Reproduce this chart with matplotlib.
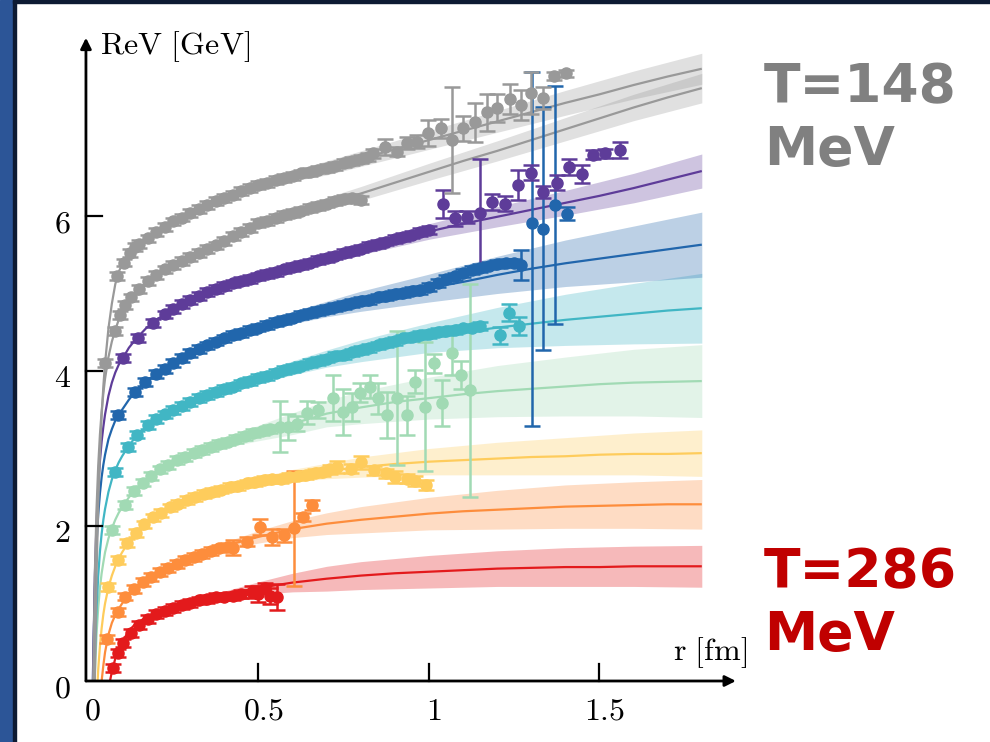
import matplotlib
matplotlib.use("Agg")
import matplotlib.pyplot as plt
from matplotlib.patches import Rectangle
import numpy as np

plt.rcParams["mathtext.fontset"] = "cm"

# ---------------------------------------------------------------- fit curves
r_fit = [0.012, 0.015, 0.02, 0.025, 0.03, 0.035, 0.04, 0.045, 0.05, 0.06, 0.07,
         0.08, 0.09, 0.1, 0.12, 0.14, 0.17, 0.2, 0.25, 0.3, 0.35, 0.4, 0.5, 0.6,
         0.7, 0.8, 0.9, 1.0, 1.1, 1.2, 1.3, 1.4, 1.5, 1.6, 1.7, 1.8]

fit_gray1 = [-3.0, -1.5, 0.0, 1.36, 2.27, 2.92, 3.42, 3.8, 4.1, 4.55, 4.87, 5.12,
             5.28, 5.37, 5.5, 5.6, 5.7, 5.79, 5.93, 6.04, 6.14, 6.23, 6.4, 6.52,
             6.62, 6.74, 6.86, 6.98, 7.1, 7.22, 7.34, 7.46, 7.57, 7.69, 7.8, 7.9]
fit_gray2 = [-1.41, 0.0, 1.38, 2.22, 2.78, 3.18, 3.48, 3.71, 3.9, 4.18, 4.38, 4.53,
             4.66, 4.76, 4.92, 5.02, 5.14, 5.24, 5.37, 5.47, 5.57, 5.68, 5.9, 6.04,
             6.16, 6.29, 6.43, 6.57, 6.71, 6.84, 6.98, 7.12, 7.26, 7.4, 7.53, 7.65]
fit_purple = [-0.99, 0.18, 1.34, 2.04, 2.51, 2.84, 3.09, 3.28, 3.44, 3.68, 3.85, 3.98,
              4.08, 4.15, 4.3, 4.41, 4.55, 4.66, 4.8, 4.92, 5.02, 5.1, 5.22, 5.34,
              5.46, 5.58, 5.7, 5.8, 5.9, 5.99, 6.08, 6.17, 6.26, 6.36, 6.47, 6.58]
fit_blue = [-0.75, 0.21, 1.18, 1.76, 2.15, 2.42, 2.63, 2.79, 2.92, 3.12, 3.25, 3.36,
            3.44, 3.5, 3.63, 3.74, 3.87, 3.96, 4.1, 4.23, 4.33, 4.42, 4.56, 4.69,
            4.8, 4.9, 4.99, 5.07, 5.15, 5.24, 5.32, 5.39, 5.45, 5.51, 5.57, 5.63]
fit_teal = [-1.9, -0.81, 0.27, 0.92, 1.36, 1.67, 1.9, 2.08, 2.22, 2.44, 2.6, 2.72,
            2.82, 2.9, 3.04, 3.15, 3.28, 3.38, 3.5, 3.6, 3.69, 3.77, 3.91, 4.04,
            4.16, 4.26, 4.35, 4.43, 4.5, 4.56, 4.61, 4.66, 4.7, 4.74, 4.78, 4.81]
fit_green = [-1.7, -0.82, 0.07, 0.6, 0.95, 1.2, 1.39, 1.53, 1.66, 1.84, 1.97, 2.08,
             2.17, 2.24, 2.37, 2.47, 2.6, 2.7, 2.83, 2.92, 3.0, 3.07, 3.2, 3.32,
             3.45, 3.53, 3.6, 3.65, 3.7, 3.74, 3.77, 3.8, 3.83, 3.85, 3.86, 3.87]
fit_yellow = [-3.05, -1.99, -0.92, -0.28, 0.15, 0.45, 0.68, 0.86, 1.0, 1.21, 1.36, 1.48,
              1.58, 1.66, 1.8, 1.91, 2.04, 2.14, 2.26, 2.35, 2.42, 2.48, 2.58, 2.65,
              2.71, 2.76, 2.8, 2.83, 2.85, 2.87, 2.89, 2.9, 2.92, 2.93, 2.93, 2.94]
fit_orange = [-5.0, -3.5, -2.0, -1.2, -0.6, -0.25, 0.0, 0.2, 0.37, 0.6, 0.75, 0.85,
              0.93, 1.0, 1.12, 1.21, 1.31, 1.39, 1.5, 1.59, 1.67, 1.74, 1.86, 1.96,
              2.03, 2.08, 2.12, 2.16, 2.19, 2.21, 2.23, 2.25, 2.26, 2.27, 2.28, 2.28]
fit_red = [-6.0, -4.6, -3.1, -2.2, -1.6, -1.2, -0.9, -0.6, -0.4, -0.1, 0.12, 0.29,
           0.41, 0.5, 0.65, 0.74, 0.82, 0.88, 0.96, 1.02, 1.07, 1.12, 1.2, 1.27,
           1.32, 1.36, 1.39, 1.41, 1.43, 1.45, 1.46, 1.47, 1.47, 1.48, 1.48, 1.48]

# half widths of the fit uncertainty bands
r_band = [0.3, 0.4, 0.5, 0.6, 0.7, 0.8, 1.0, 1.2, 1.4, 1.6, 1.8]
band_gray1 = [0.02, 0.04, 0.06, 0.07, 0.09, 0.1, 0.12, 0.14, 0.16, 0.18, 0.2]
band_gray2 = [0.02, 0.03, 0.05, 0.06, 0.08, 0.09, 0.11, 0.13, 0.15, 0.17, 0.19]
band_purple = [0.01, 0.02, 0.03, 0.05, 0.06, 0.08, 0.1, 0.13, 0.16, 0.19, 0.22]
band_blue = [0.02, 0.04, 0.06, 0.08, 0.1, 0.13, 0.18, 0.24, 0.3, 0.36, 0.42]
band_teal = [0.02, 0.04, 0.07, 0.09, 0.11, 0.14, 0.19, 0.26, 0.33, 0.39, 0.45]
band_green = [0.03, 0.06, 0.1, 0.14, 0.17, 0.21, 0.27, 0.33, 0.38, 0.43, 0.47]
band_yellow = [0.01, 0.03, 0.05, 0.08, 0.1, 0.13, 0.17, 0.21, 0.24, 0.27, 0.3]
band_orange = [0.02, 0.05, 0.08, 0.11, 0.14, 0.17, 0.21, 0.25, 0.28, 0.3, 0.32]
band_red = [0.01, 0.04, 0.08, 0.12, 0.16, 0.18, 0.21, 0.23, 0.25, 0.26, 0.27]

# ---------------------------------------------------------------- lattice data
dense_err = 0.05

gray1_r = [0.05, 0.085, 0.105, 0.123, 0.138, 0.15, 0.175, 0.2, 0.225, 0.25, 0.275,
           0.3, 0.325, 0.35, 0.375, 0.4, 0.425, 0.45, 0.475, 0.5, 0.525, 0.55, 0.575,
           0.6, 0.625, 0.65, 0.675, 0.7, 0.725, 0.75, 0.775, 0.8]
gray1_v = [4.10, 5.23, 5.40, 5.52, 5.60, 5.64, 5.71, 5.79, 5.86, 5.93, 5.98, 6.04,
           6.09, 6.14, 6.19, 6.23, 6.27, 6.32, 6.36, 6.40, 6.43, 6.46, 6.49, 6.52,
           6.55, 6.57, 6.60, 6.62, 6.65, 6.68, 6.71, 6.74]
gray1_sr = [0.82, 0.836, 0.87, 0.905, 0.935, 0.964, 0.997, 1.035, 1.067, 1.1, 1.135,
            1.17, 1.2, 1.237, 1.27, 1.3, 1.334, 1.367, 1.402]
gray1_sv = [6.76, 6.81, 6.89, 6.83, 6.94, 6.96, 7.07, 7.13, 6.98, 7.13, 7.21, 7.34,
            7.39, 7.51, 7.43, 7.59, 7.52, 7.81, 7.84]
gray1_se = [0.05, 0.06, 0.1, 0.06, 0.08, 0.08, 0.17, 0.12, 0.68, 0.16, 0.25, 0.24,
            0.18, 0.19, 0.19, 0.27, 0.14, 0.05, 0.05]

gray2_r = [0.079, 0.094, 0.108, 0.125, 0.15, 0.175, 0.2, 0.225, 0.25, 0.275, 0.3,
           0.325, 0.35, 0.375, 0.4, 0.425, 0.45, 0.475, 0.5, 0.525, 0.55, 0.575, 0.6,
           0.625, 0.65, 0.675, 0.7, 0.725, 0.75, 0.775, 0.8]
gray2_v = [4.52, 4.72, 4.85, 4.95, 5.06, 5.16, 5.24, 5.31, 5.37, 5.42, 5.47, 5.52,
           5.57, 5.62, 5.68, 5.74, 5.79, 5.85, 5.91, 5.94, 5.97, 6.01, 6.04, 6.07,
           6.10, 6.13, 6.16, 6.19, 6.22, 6.23, 6.21]

purple_r = [0.104, 0.148, 0.19, 0.225, 0.25, 0.275, 0.3, 0.325, 0.35, 0.375, 0.4,
            0.425, 0.45, 0.475, 0.5, 0.525, 0.55, 0.575, 0.6, 0.625, 0.65, 0.675,
            0.7, 0.725, 0.75, 0.775, 0.8, 0.825, 0.85, 0.875, 0.9, 0.925, 0.95,
            0.975, 1.0]
purple_v = [4.17, 4.43, 4.62, 4.73, 4.80, 4.86, 4.92, 4.97, 5.02, 5.06, 5.10, 5.13,
            5.16, 5.19, 5.22, 5.25, 5.28, 5.31, 5.34, 5.37, 5.40, 5.43, 5.46, 5.49,
            5.52, 5.55, 5.58, 5.61, 5.64, 5.67, 5.70, 5.73, 5.76, 5.79, 5.82]
purple_sr = [1.04, 1.076, 1.11, 1.15, 1.185, 1.223, 1.26, 1.3, 1.335, 1.375, 1.41,
             1.45, 1.48, 1.516, 1.56]
purple_sv = [6.16, 5.97, 5.99, 6.04, 6.18, 6.16, 6.40, 6.56, 6.31, 6.43, 6.63, 6.54,
             6.79, 6.81, 6.85]
purple_se = [0.18, 0.1, 0.08, 0.7, 0.1, 0.1, 0.19, 0.1, 0.08, 0.1, 0.1, 0.12, 0.06,
             0.06, 0.1]

blue_r = [0.089, 0.138, 0.167, 0.2, 0.225, 0.25, 0.275, 0.3, 0.325, 0.35, 0.375,
          0.4, 0.425, 0.45, 0.475, 0.5, 0.525, 0.55, 0.575, 0.6, 0.625, 0.65, 0.675,
          0.7, 0.725, 0.75, 0.775, 0.8, 0.825, 0.85, 0.875, 0.9, 0.925, 0.95, 0.975,
          1.0, 1.025, 1.05, 1.075, 1.1, 1.125, 1.15, 1.175, 1.2, 1.225, 1.25]
blue_v = [3.43, 3.73, 3.86, 3.96, 4.03, 4.10, 4.17, 4.23, 4.28, 4.33, 4.38, 4.42,
          4.46, 4.49, 4.53, 4.56, 4.59, 4.63, 4.66, 4.69, 4.72, 4.75, 4.77, 4.80,
          4.83, 4.85, 4.88, 4.90, 4.92, 4.95, 4.97, 4.99, 5.01, 5.03, 5.05, 5.08,
          5.14, 5.19, 5.22, 5.26, 5.30, 5.33, 5.36, 5.38, 5.40, 5.39]
blue_sr = [1.27, 1.303, 1.335, 1.37, 1.405]
blue_sv = [5.37, 5.91, 5.83, 6.14, 6.03]
blue_se_lo = [0.19, 2.62, 1.56, 1.53, 0.08]
blue_se_hi = [0.19, 1.95, 1.58, 1.54, 0.08]

teal_r = [0.079, 0.117, 0.145, 0.175, 0.2, 0.225, 0.25, 0.275, 0.3, 0.325, 0.35,
          0.375, 0.4, 0.425, 0.45, 0.475, 0.5, 0.525, 0.55, 0.575, 0.6, 0.625, 0.65,
          0.675, 0.7, 0.725, 0.75, 0.775, 0.8, 0.825, 0.85, 0.875, 0.9, 0.925, 0.95,
          0.975, 1.0, 1.025, 1.05, 1.075, 1.1, 1.125, 1.15]
teal_v = [2.70, 3.02, 3.18, 3.30, 3.38, 3.44, 3.50, 3.55, 3.60, 3.65, 3.69, 3.73,
          3.77, 3.80, 3.84, 3.87, 3.91, 3.94, 3.98, 4.01, 4.04, 4.07, 4.10, 4.13,
          4.16, 4.19, 4.21, 4.24, 4.27, 4.30, 4.33, 4.36, 4.39, 4.42, 4.44, 4.46,
          4.48, 4.50, 4.52, 4.53, 4.55, 4.56, 4.58]
teal_sr = [1.208, 1.235, 1.264]
teal_sv = [4.46, 4.75, 4.58]
teal_se = [0.11, 0.11, 0.12]

green_r = [0.069, 0.108, 0.135, 0.16, 0.185, 0.21, 0.235, 0.26, 0.285, 0.31, 0.335,
           0.36, 0.385, 0.41, 0.435, 0.46, 0.485, 0.51, 0.535]
green_v = [1.95, 2.27, 2.45, 2.56, 2.65, 2.73, 2.79, 2.85, 2.89, 2.94, 2.98, 3.02,
           3.06, 3.09, 3.12, 3.16, 3.20, 3.22, 3.25]
green_sr = [0.563, 0.587, 0.612, 0.642, 0.674, 0.719, 0.748, 0.774, 0.798, 0.827,
            0.85, 0.877, 0.905, 0.935, 0.959, 0.988, 1.015, 1.038, 1.067, 1.094, 1.12]
green_sv = [3.28, 3.28, 3.32, 3.46, 3.50, 3.65, 3.47, 3.54, 3.72, 3.80, 3.65, 3.43,
            3.65, 3.43, 3.86, 3.54, 4.10, 3.59, 4.23, 3.95, 3.75]
green_se = [0.33, 0.17, 0.1, 0.15, 0.1, 0.3, 0.3, 0.18, 0.12, 0.15, 0.2, 0.3, 0.86,
            0.25, 0.15, 0.83, 0.12, 0.3, 0.28, 0.18, 1.37]

yellow_r = [0.06, 0.088, 0.113, 0.14, 0.165, 0.19, 0.215, 0.24, 0.265, 0.29, 0.315,
            0.34, 0.365, 0.39, 0.415, 0.44, 0.465, 0.49, 0.515, 0.54, 0.565, 0.59,
            0.615, 0.64, 0.665, 0.69]
yellow_v = [1.21, 1.56, 1.78, 1.91, 2.02, 2.11, 2.17, 2.24, 2.29, 2.34, 2.37, 2.41,
            2.44, 2.47, 2.50, 2.52, 2.55, 2.57, 2.59, 2.61, 2.61, 2.63, 2.64, 2.66,
            2.68, 2.70]
yellow_sr = [0.71, 0.73, 0.77, 0.8, 0.84, 0.875, 0.9, 0.935, 0.96, 0.99]
yellow_sv = [2.73, 2.76, 2.74, 2.82, 2.72, 2.68, 2.63, 2.61, 2.58, 2.53]
yellow_se = [0.06, 0.08, 0.06, 0.08, 0.06, 0.06, 0.08, 0.06, 0.06, 0.07]

orange_r = [0.055, 0.088, 0.108, 0.135, 0.16, 0.185, 0.21, 0.235, 0.26, 0.285, 0.31,
            0.335, 0.36, 0.385, 0.41]
orange_v = [0.54, 0.89, 1.09, 1.19, 1.28, 1.34, 1.41, 1.46, 1.51, 1.56, 1.60, 1.64,
            1.68, 1.71, 1.73]
orange_sr = [0.425, 0.465, 0.505, 0.54, 0.575, 0.605, 0.63, 0.657]
orange_sv = [1.72, 1.80, 1.99, 1.86, 1.88, 1.97, 2.12, 2.27]
orange_se = [0.1, 0.06, 0.1, 0.1, 0.08, 0.74, 0.05, 0.06]

red_r = [0.073, 0.088, 0.103, 0.125, 0.15, 0.175, 0.2, 0.225, 0.25, 0.275, 0.3,
         0.325, 0.35, 0.375, 0.4, 0.425, 0.45]
red_v = [0.17, 0.36, 0.49, 0.62, 0.72, 0.80, 0.86, 0.90, 0.94, 0.98, 1.01, 1.04,
         1.06, 1.08, 1.09, 1.10, 1.12]
red_sr = [0.48, 0.5, 0.52, 0.535, 0.555]
red_sv = [1.15, 1.12, 1.20, 1.10, 1.08]
red_se = [0.08, 0.1, 0.07, 0.1, 0.17]

x_ticks = [0.5, 1.0, 1.5]
x_ticklabels = ["0", "0.5", "1", "1.5"]
y_ticks = [2, 4, 6]
y_ticklabels = ["0", "2", "4", "6"]

# ---------------------------------------------------------------- styling
C_GRAY = "#999999"
C_PURPLE = "#5e3c99"
C_BLUE = "#2166ac"
C_TEAL = "#41b6c4"
C_GREEN = "#a1dab4"
C_YELLOW = "#fecc5c"
C_ORANGE = "#fd8d3c"
C_RED = "#e31a1c"

series = [
    # fit, band, colour, dense r, dense V, sparse r, sparse V, sparse err
    (fit_red, band_red, C_RED, red_r, red_v, red_sr, red_sv, red_se),
    (fit_orange, band_orange, C_ORANGE, orange_r, orange_v, orange_sr, orange_sv, orange_se),
    (fit_yellow, band_yellow, C_YELLOW, yellow_r, yellow_v, yellow_sr, yellow_sv, yellow_se),
    (fit_green, band_green, C_GREEN, green_r, green_v, green_sr, green_sv, green_se),
    (fit_teal, band_teal, C_TEAL, teal_r, teal_v, teal_sr, teal_sv, teal_se),
    (fit_blue, band_blue, C_BLUE, blue_r, blue_v, blue_sr, blue_sv,
     [blue_se_lo, blue_se_hi]),
    (fit_purple, band_purple, C_PURPLE, purple_r, purple_v, purple_sr, purple_sv, purple_se),
    (fit_gray2, band_gray2, C_GRAY, gray2_r, gray2_v, [], [], []),
    (fit_gray1, band_gray1, C_GRAY, gray1_r, gray1_v, gray1_sr, gray1_sv, gray1_se),
]

W, H = 990, 742
fig = plt.figure(figsize=(W / 100, H / 100), dpi=100)
fig.patch.set_facecolor("white")

# slide frame
fig.patches.append(Rectangle((0, 0), 13 / W, 1, transform=fig.transFigure,
                             color="#2c5597", zorder=0))
fig.patches.append(Rectangle((13 / W, 0), 2.5 / W, 1, transform=fig.transFigure,
                             color="#0d1a33", zorder=0))
fig.patches.append(Rectangle((13 / W, 1 - 3 / H), 1, 3 / H, transform=fig.transFigure,
                             color="#0d1a33", zorder=0))

XMIN, XMAX, YMIN, YMAX = -0.006, 1.9, 0.0, 8.3
px_left, px_right, px_bottom, px_top = 85.95, 735.9, 681.0, 37.75
ax = fig.add_axes([px_left / W, 1 - px_bottom / H,
                   (px_right - px_left) / W, (px_bottom - px_top) / H])
ax.set_xlim(XMIN, XMAX)
ax.set_ylim(YMIN, YMAX)
ax.axis("off")

band_idx = [r_fit.index(r) for r in r_band]
marker_style = dict(fmt="o", ms=8, elinewidth=1.8, capsize=5.5, capthick=1.8,
                    zorder=3)

for fit, band, col, dr, dv, sr, sv, se in series:
    centre = np.array([fit[i] for i in band_idx])
    hw = np.array(band)
    ax.fill_between(r_band, centre - hw, centre + hw, color=col, alpha=0.3,
                    lw=0, zorder=1)
    ax.plot(r_fit, fit, color=col, lw=1.6, zorder=2, solid_capstyle="butt")
    ax.errorbar(dr, dv, yerr=dense_err, color=col, mec=col, **marker_style)
    if len(sr):
        ax.errorbar(sr, sv, yerr=se, color=col, mec=col, **marker_style)

# axes with arrows
arrow = dict(arrowstyle="-|>", lw=2.0, color="black", mutation_scale=16,
             shrinkA=0, shrinkB=0)
ax.annotate("", xy=(1.9, 0), xytext=(XMIN, 0), arrowprops=arrow,
            annotation_clip=False)
ax.annotate("", xy=(XMIN, 8.3), xytext=(XMIN, 0), arrowprops=arrow,
            annotation_clip=False)

tick_dy = 17 / 77.5
tick_dx = 16 / 341
for t in x_ticks:
    ax.plot([t, t], [0, tick_dy], color="black", lw=1.6, clip_on=False, zorder=4)
for t in y_ticks:
    ax.plot([XMIN, XMIN + tick_dx], [t, t], color="black", lw=1.6, clip_on=False,
            zorder=4)

fs = 23
for t, lab in zip([0.0] + x_ticks, x_ticklabels):
    ax.text(t + 0.014, -0.39, "$" + lab + "$", fontsize=fs, ha="center",
            va="center")
for t, lab in zip([0] + y_ticks, y_ticklabels):
    ax.text(-0.076, t - 0.1, "$" + lab + "$", fontsize=fs, ha="center",
            va="center")

ax.text(0.035, 8.18, r"$\mathrm{ReV\ [GeV]}$", fontsize=fs, ha="left",
        va="center")
ax.text(1.716, 0.37, r"$\mathrm{r\ [fm]}$", fontsize=fs, ha="left", va="center")

# temperature annotations
big = dict(fontsize=38.5, fontweight="bold", family="DejaVu Sans", ha="left",
           va="baseline")
fig.text(764 / W, 1 - 102 / H, "T=148", color="#808080", **big)
fig.text(764 / W, 1 - 165 / H, "MeV", color="#808080", **big)
fig.text(764 / W, 1 - 587 / H, "T=286", color="#c00000", **big)
fig.text(764 / W, 1 - 650 / H, "MeV", color="#c00000", **big)

fig.savefig("out.png", dpi=100)
